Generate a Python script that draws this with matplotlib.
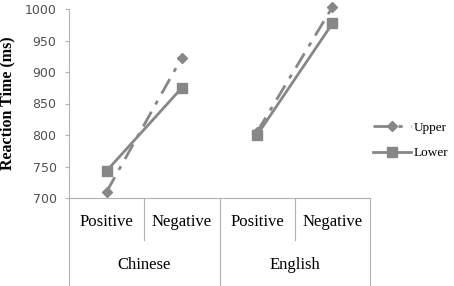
import matplotlib
matplotlib.use("Agg")
import matplotlib.pyplot as plt
import numpy as np

groups = ["Chinese", "English"]
conditions = ["Positive", "Negative"]
upper = [710, 923, 805, 1003]
lower = [743, 875, 800, 977]
y_ticks = [700, 750, 800, 850, 900, 950, 1000]

gray = "#878787"
axis_gray = "#b3b3b3"
serif = ["Liberation Serif", "DejaVu Serif"]

fig = plt.figure(figsize=(4.54, 2.86), dpi=100)
ax = fig.add_axes([69 / 454, 1 - 198 / 286, 301 / 454, 189 / 286])

x = np.arange(len(upper)) + 0.5
for g in range(len(groups)):
    sl = slice(2 * g, 2 * g + 2)
    ax.plot(x[sl], upper[sl], color=gray, lw=2, ls=(0, (6, 3, 1.5, 3)),
            marker="D", ms=5, clip_on=False, label="Upper" if g == 0 else None)
    ax.plot(x[sl], lower[sl], color=gray, lw=2, ls="-",
            marker="s", ms=7, clip_on=False, label="Lower" if g == 0 else None)

ax.set_xlim(0, 4)
ax.set_ylim(700, 1000)
ax.set_yticks(y_ticks)
ax.tick_params(axis="y", labelsize=9, colors=axis_gray, labelcolor="#505050",
               length=3, width=0.8, pad=6)
ax.set_xticks([])
for s in ["top", "right"]:
    ax.spines[s].set_visible(False)
for s in ["left", "bottom"]:
    ax.spines[s].set_color(axis_gray)
    ax.spines[s].set_linewidth(0.8)

# category dividers below the axis
tr = ax.get_xaxis_transform()
bottom_full = -88 / 189
bottom_short = -42 / 189
for xv in [0, 2, 4]:
    ax.plot([xv, xv], [0, bottom_full], transform=tr, color=axis_gray, lw=0.8, clip_on=False)
for xv in [1, 3]:
    ax.plot([xv, xv], [0, bottom_short], transform=tr, color=axis_gray, lw=0.8, clip_on=False)

for i, xv in enumerate(x):
    ax.text(xv, -24 / 189, conditions[i % 2], transform=tr, ha="center", va="center",
            fontsize=12, family=serif)
for g, name in enumerate(groups):
    ax.text(2 * g + 1, -67 / 189, name, transform=tr, ha="center", va="center",
            fontsize=12, family=serif)

ax.set_ylabel("Reaction Time (ms)", fontsize=11.5, fontweight="bold", family=serif, labelpad=7)

leg = ax.legend(loc="center left", bbox_to_anchor=(1.0, 0.305), frameon=False,
                prop={"family": serif, "size": 9.5}, handlelength=2.9, handletextpad=0.2,
                labelspacing=1.0, borderaxespad=0.0, borderpad=0.2)

fig.savefig("out.png", dpi=100)
